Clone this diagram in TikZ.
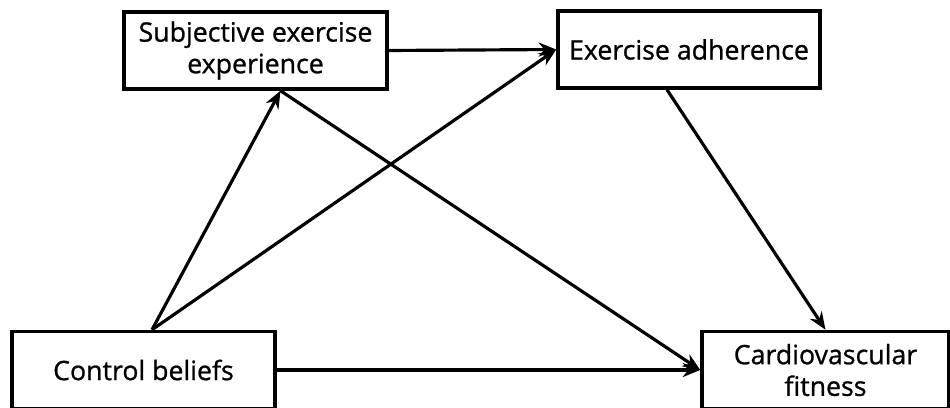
\documentclass[tikz,border=0pt]{standalone}
\usepackage{fontspec}
\setmainfont{Open Sans}
\newfontfamily\labelfont{Open Sans}[RawFeature={embolden=0.9}]
\usetikzlibrary{arrows.meta,calc,positioning}

\tikzset{
  factor/.style={draw,line width=2pt,minimum height=1.54cm,align=center,
    font=\labelfont\fontsize{15.2}{18}\selectfont},
  path arrow/.style={line width=1.8pt,-{Stealth[length=10pt,width=8pt]}}
}

\begin{document}
\begin{tikzpicture}
\useasboundingbox (0,0) rectangle (19,8.14);
\node[factor,minimum width=5.26cm] (subj) at (5.11,7.13) {Subjective exercise\\experience};
\node[factor,minimum width=5.24cm] (adh) at (13.78,7.15) {Exercise adherence};
\node[factor,minimum width=5.26cm] (ctrl) at (2.87,0.74) {Control beliefs};
\node[factor,minimum width=4.94cm] (cardio) at (16.51,0.74) {Cardiovascular\\fitness};
\coordinate (ctrltop) at ($(ctrl.north)+(0.17,0)$);
\coordinate (subjbot) at ($(subj.south)+(0.5,0)$);
\coordinate (adhbot) at ($(adh.south)+(-0.44,0)$);
% paths
\draw[path arrow] (subj.east) -- (adh.west);
\draw[path arrow] (ctrltop) -- (subjbot);
\draw[path arrow] (ctrltop) -- (adh.west);
\draw[path arrow] (subjbot) -- (cardio.west);
\draw[path arrow] (adhbot) -- (cardio.north);
\draw[path arrow] (ctrl.east) -- (cardio.west);
\end{tikzpicture}
\end{document}
